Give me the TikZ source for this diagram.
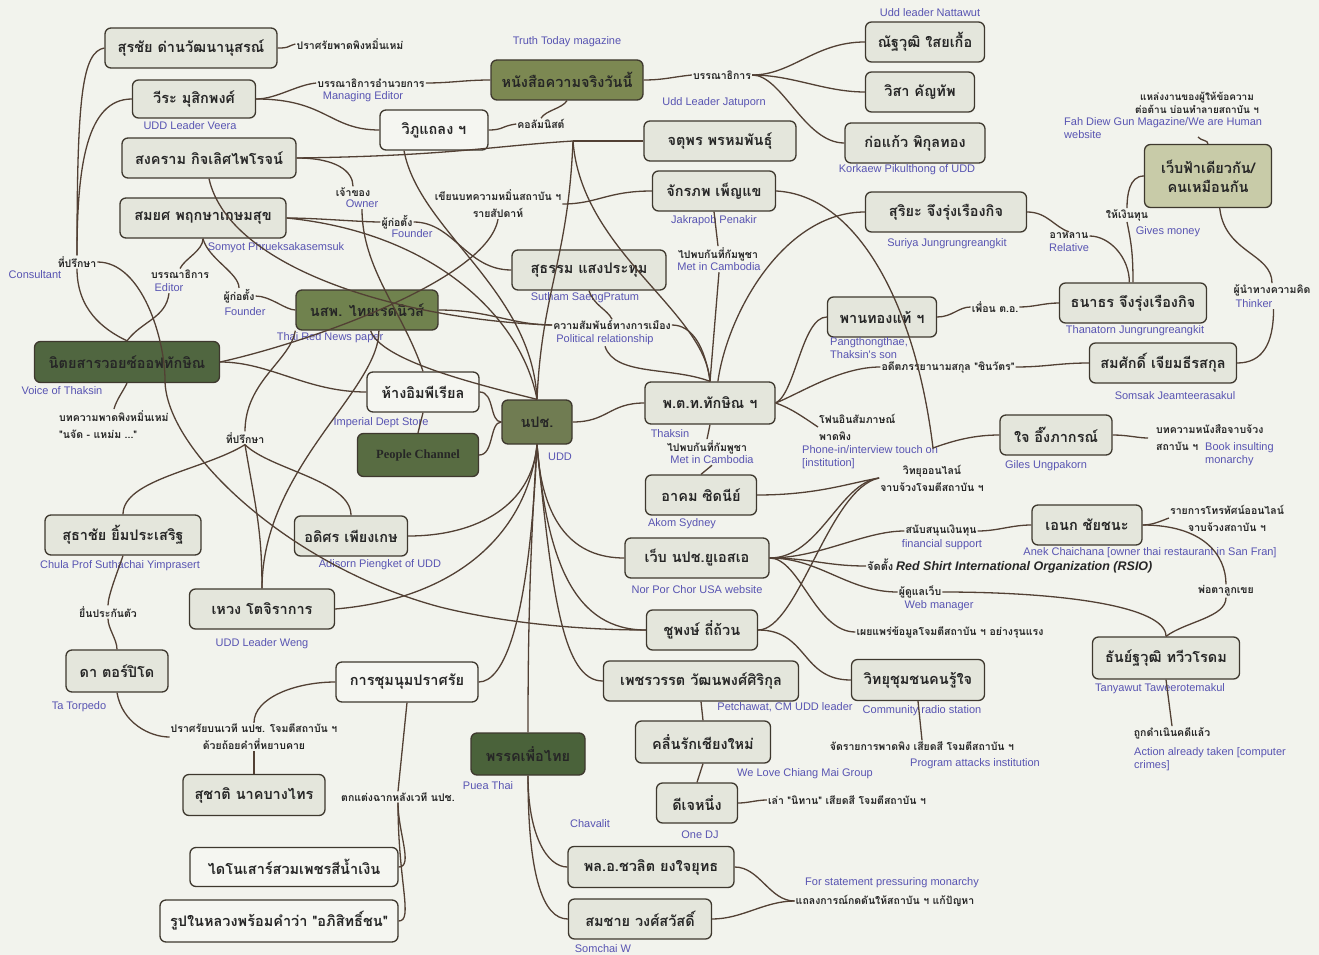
\documentclass[tikz,border=0pt]{standalone}
\usepackage{fontspec}
\setmainfont{Liberation Sans}
\newfontfamily\thai[Script=Thai]{Loma}
\newfontfamily\arial{Liberation Sans}
\newfontfamily\tnr{Liberation Serif}
\usetikzlibrary{calc}
\definecolor{bgc}{RGB}{242,243,237}
\definecolor{boxgray}{RGB}{228,230,220}
\definecolor{boxwhite}{RGB}{245,246,241}
\definecolor{olivec}{RGB}{124,136,82}
\definecolor{redc}{RGB}{112,130,78}
\definecolor{voicec}{RGB}{80,102,64}
\definecolor{peoplec}{RGB}{88,108,66}
\definecolor{uddc}{RGB}{112,124,82}
\definecolor{pueac}{RGB}{74,98,58}
\definecolor{fahc}{RGB}{200,203,168}
\definecolor{edgecol}{RGB}{82,64,52}
\definecolor{nodeline}{RGB}{62,56,46}
\definecolor{bluetext}{RGB}{88,84,178}
\begin{document}
\begin{tikzpicture}[x=1pt,y=-1pt,
  nbox/.style={draw=nodeline, line width=1.3pt, rounded corners=6pt, fill=boxgray,
     font=\thai\bfseries\fontsize{14.5}{19}\selectfont, inner sep=2pt, align=center, text=black!85},
  sz/.style n args={2}{minimum width=#1pt, minimum height=#2pt},
  lab/.style={font=\thai\bfseries\fontsize{10.5}{17}\selectfont, inner sep=1pt, align=center, text=black!85},
  blu/.style={font=\arial\fontsize{11}{13}\selectfont, text=bluetext, inner sep=1pt, align=left},
  conn/.style={draw=edgecol, line width=1.3pt}]
\useasboundingbox (0,0) rectangle (1319,955);
\fill[bgc] (0,0) rectangle (1319,955);

% ---------- boxes ----------
\node[nbox,sz={172}{40}] (surachai) at (191,48) {สุรชัย ด่านวัฒนานุสรณ์};
\node[nbox,sz={123}{38}] (veera) at (194,99) {วีระ มุสิกพงศ์};
\node[nbox,sz={174}{40}] (songkram) at (209,158) {สงคราม กิจเลิศไพโรจน์};
\node[nbox,sz={166}{40}] (somyot) at (203,218) {สมยศ พฤกษาเกษมสุข};
\node[nbox,fill=boxwhite,sz={108}{40}] (wiphu) at (434,130) {วิภูแถลง ฯ};
\node[nbox,fill=olivec,sz={152}{40}] (truth) at (567,80) {หนังสือความจริงวันนี้};
\node[nbox,sz={119}{40}] (nattawut) at (925,42) {ณัฐวุฒิ ใสยเกื้อ};
\node[nbox,sz={109}{40}] (wisa) at (920,92) {วิสา คัญทัพ};
\node[nbox,sz={140}{40}] (korkaew) at (915,143) {ก่อแก้ว พิกุลทอง};
\node[nbox,sz={152}{40}] (jatuporn) at (720,141) {จตุพร พรหมพันธุ์};
\node[nbox,sz={123}{40}] (jakrapob) at (714,191) {จักรภพ เพ็ญแข};
\node[nbox,sz={161}{40}] (suriya) at (946,212) {สุริยะ จึงรุ่งเรืองกิจ};
\node[nbox,fill=fahc,sz={127}{63}] (fahdiew) at (1208,176) {เว็บฟ้าเดียวกัน/\\คนเหมือนกัน};
\node[nbox,sz={154}{40}] (sutham) at (589,270) {สุธรรม แสงประทุม};
\node[nbox,fill=redc,sz={142}{40}] (thaired) at (367,310) {นสพ. ไทยเรดนิวส์};
\node[nbox,fill=voicec,sz={185}{41}] (voice) at (127,362) {นิตยสารวอยซ์ออฟทักษิณ};
\node[nbox,sz={109}{40}] (panthong) at (882,317) {พานทองแท้ ฯ};
\node[nbox,sz={147}{40}] (thanatorn) at (1133,303) {ธนาธร จึงรุ่งเรืองกิจ};
\node[nbox,sz={147}{40}] (somsak) at (1163,363) {สมศักดิ์ เจียมธีรสกุล};
\node[nbox,fill=boxwhite,sz={112}{40}] (imperial) at (423,392) {ห้างอิมพีเรียล};
\node[nbox,fill=peoplec,sz={121}{43},font=\tnr\bfseries\fontsize{12.5}{15}\selectfont] (people) at (418,455) {People Channel};
\node[nbox,fill=uddc,sz={70}{44}] (udd) at (537,422) {นปช.};
\node[nbox,sz={130}{42}] (thaksin) at (710,403) {พ.ต.ท.ทักษิณ ฯ};
\node[nbox,sz={112}{40}] (jai) at (1056,435) {ใจ อึ๊งภากรณ์};
\node[nbox,sz={111}{40}] (akom) at (701,495) {อาคม ซิดนีย์};
\node[nbox,sz={144}{40}] (webusa) at (697,558) {เว็บ นปช.ยูเอสเอ};
\node[nbox,sz={110}{40}] (anek) at (1087,525) {เอนก ชัยชนะ};
\node[nbox,sz={156}{40}] (suthachai) at (123,535) {สุธาชัย ยิ้มประเสริฐ};
\node[nbox,sz={113}{40}] (adisorn) at (351,536) {อดิศร เพียงเกษ};
\node[nbox,sz={145}{40}] (weng) at (262,609) {เหวง โตจิราการ};
\node[nbox,sz={111}{40}] (chupong) at (702,630) {ชูพงษ์ ถี่ถ้วน};
\node[nbox,sz={102}{42}] (ta) at (117,671) {ดา ตอร์ปิโด};
\node[nbox,fill=boxwhite,sz={142}{40}] (rally) at (407,682) {การชุมนุมปราศรัย};
\node[nbox,sz={195}{40}] (petchawat) at (701,681) {เพชรวรรต วัฒนพงศ์ศิริกุล};
\node[nbox,sz={133}{41}] (radio) at (918,680) {วิทยุชุมชนคนรู้ใจ};
\node[nbox,sz={147}{42}] (tanyawut) at (1166,658) {ธันย์ฐวุฒิ ทวีวโรดม};
\node[nbox,fill=pueac,sz={114}{42}] (puea) at (528,754) {พรรคเพื่อไทย};
\node[nbox,sz={135}{42}] (khluen) at (703,742) {คลื่นรักเชียงใหม่};
\node[nbox,sz={142}{41}] (suchat) at (254,795) {สุชาติ นาคบางไทร};
\node[nbox,sz={81}{40}] (dj) at (697,803) {ดีเจหนึ่ง};
\node[nbox,fill=boxwhite,sz={208}{39}] (dino) at (294,867) {ไดโนเสาร์สวมเพชรสีน้ำเงิน};
\node[nbox,sz={166}{41}] (chavalit) at (651,867) {พล.อ.ชวลิต ยงใจยุทธ};
\node[nbox,sz={143}{40}] (somchai) at (640,919) {สมชาย วงศ์สวัสดิ์};
\node[nbox,fill=boxwhite,sz={238}{42}] (picture) at (279,921) {รูปในหลวงพร้อมคำว่า "อภิสิทธิ์ชน"};

% ---------- blue captions ----------
\node[blu] (c-truth) at (567,42) {Truth Today magazine};
\node[blu] (c-veera) at (190,126) {UDD Leader Veera};
\node[blu] (c-somyot) at (276,248) {Somyot Phrueksakasemsuk};
\node[blu] (c-natta) at (930,13) {Udd leader Nattawut};
\node[blu] (c-jatu) at (714,103) {Udd Leader Jatuporn};
\node[blu] (c-kork) at (907,170) {Korkaew Pikulthong of UDD};
\node[blu] (c-jakr) at (714,221) {Jakrapob Penakir};
\node[blu] (c-suriya) at (947,244) {Suriya Jungrungreangkit};
\node[blu] (c-sutham) at (585,298) {Sutham SaengPratum};
\node[blu] (c-thaired) at (330,338) {Thai Red News paper};
\node[blu] (c-voice) at (62,391) {Voice of Thaksin};
\node[blu,anchor=north west] (c-pang) at (829,336) {Pangthongthae,\\Thaksin's son};
\node[blu] (c-thana) at (1135,331) {Thanatorn Jungrungreangkit};
\node[blu] (c-somsak) at (1175,396) {Somsak Jeamteerasakul};
\node[blu] (c-imp) at (381,423) {Imperial Dept Store};
\node[blu] (c-udd) at (560,457) {UDD};
\node[blu] (c-thaksin) at (670,434) {Thaksin};
\node[blu] (c-jai) at (1046,466) {Giles Ungpakorn};
\node[blu] (c-akom) at (682,524) {Akom Sydney};
\node[blu] (c-webusa) at (697,590) {Nor Por Chor USA website};
\node[blu] (c-anek) at (1150,553) {Anek Chaichana [owner thai restaurant in San Fran]};
\node[blu] (c-sutha) at (120,566) {Chula Prof Suthachai Yimprasert};
\node[blu] (c-adis) at (380,565) {Adisorn Piengket of UDD};
\node[blu] (c-weng) at (262,644) {UDD Leader Weng};
\node[blu] (c-ta) at (79,707) {Ta Torpedo};
\node[blu] (c-petch) at (785,707) {Petchawat, CM UDD leader};
\node[blu] (c-radio) at (922,711) {Community radio station};
\node[blu] (c-tany) at (1160,689) {Tanyawut Taweerotemakul};
\node[blu] (c-puea) at (488,786) {Puea Thai};
\node[blu] (c-khluen) at (805,774) {We Love Chiang Mai Group};
\node[blu] (c-dj) at (700,835) {One DJ};
\node[blu] (c-chav) at (590,824) {Chavalit};
\node[blu] (c-somchai) at (603,949) {Somchai W};

% ---------- relation labels ----------
\node[lab] (l-sura) at (350,44) {ปราศรัยพาดพิงหมิ่นเหม่};
\node[lab] (l-medit) at (371,83) {บรรณาธิการอำนวยการ};
\node[blu] (c-medit) at (363,97) {Managing Editor};
\node[lab] (l-col) at (541,124) {คอลัมนิสต์};
\node[lab] (l-edit) at (722,75) {บรรณาธิการ};
\node[lab] (l-owner) at (353,192) {เจ้าของ};
\node[blu] (c-owner) at (362,204) {Owner};
\node[lab] (l-found1) at (397,222) {ผู้ก่อตั้ง};
\node[blu] (c-found1) at (412,234) {Founder};
\node[lab] (l-write) at (498,204) {เขียนบทความหมิ่นสถาบัน ฯ\\รายสัปดาห์};
\node[lab] (l-cons) at (77,262) {ที่ปรึกษา};
\node[blu] (c-cons) at (35,275) {Consultant};
\node[lab] (l-edit2) at (180,274) {บรรณาธิการ};
\node[blu] (c-edit2) at (169,288) {Editor};
\node[lab] (l-found2) at (239,296) {ผู้ก่อตั้ง};
\node[blu] (c-found2) at (245,312) {Founder};
\node[lab] (l-pol) at (612,325) {ความสัมพันธ์ทางการเมือง};
\node[blu] (c-pol) at (605,340) {Political relationship};
\node[lab] (l-camb1) at (718,254) {ไปพบกันที่กัมพูชา};
\node[blu] (c-camb1) at (719,267) {Met in Cambodia};
\node[lab] (l-camb2) at (707,447) {ไปพบกันที่กัมพูชา};
\node[blu] (c-camb2) at (712,460) {Met in Cambodia};
\node[lab] (l-money) at (1127,215) {ให้เงินทุน};
\node[blu] (c-money) at (1168,232) {Gives money};
\node[lab] (l-rel) at (1069,236) {อาหลาน};
\node[blu] (c-rel) at (1069,248) {Relative};
\node[lab] (l-think) at (1272,290) {ผู้นำทางความคิด};
\node[blu] (c-think) at (1254,304) {Thinker};
\node[lab] (l-friend) at (995,307) {เพื่อน ต.อ.};
\node[lab] (l-exwife) at (948,367) {อดีตภรรยานามสกุล "ชินวัตร"};
\node[lab,align=left,anchor=west] (l-phone) at (818,427) {โฟนอินสัมภาษณ์\\พาดพิง};
\node[blu,anchor=north west] (c-phone) at (801,444) {Phone-in/interview touch on\\{}[institution]};
\node[lab] (l-radio) at (932,478) {วิทยุออนไลน์\\จาบจ้วงโจมตีสถาบัน ฯ};
\node[lab,align=left,anchor=west] (l-book) at (1155,438) {บทความหนังสือจาบจ้วง\\สถาบัน ฯ};
\node[blu,anchor=north west] (c-book) at (1204,441) {Book insulting\\monarchy};
\node[lab] (l-tv) at (1227,518) {รายการโทรทัศน์ออนไลน์\\จาบจ้วงสถาบัน ฯ};
\node[lab] (l-fin) at (941,531) {สนับสนุนเงินทุน};
\node[blu] (c-fin) at (942,545) {financial support};
\node[inner sep=1pt,anchor=west,text=black!85] (l-rsio) at (866,566) {{\thai\bfseries\fontsize{11}{12}\selectfont จัดตั้ง} {\arial\bfseries\itshape\fontsize{12.5}{14}\selectfont Red Shirt International Organization (RSIO)}};
\node[lab] (l-webm) at (920,592) {ผู้ดูแลเว็บ};
\node[blu] (c-webm) at (939,606) {Web manager};
\node[lab] (l-inlaw) at (1226,591) {พ่อตาลูกเขย};
\node[lab] (l-spread) at (950,632) {เผยแพร่ข้อมูลโจมตีสถาบัน ฯ อย่างรุนแรง};
\node[lab] (l-sued) at (1172,733) {ถูกดำเนินคดีแล้ว};
\node[blu,anchor=north west] (c-sued) at (1133,746) {Action already taken [computer\\crimes]};
\node[lab] (l-prog) at (922,746) {จัดรายการพาดพิง เสียดสี โจมตีสถาบัน ฯ};
\node[blu] (c-prog) at (975,764) {Program attacks institution};
\node[lab] (l-tale) at (847,800) {เล่า "นิทาน" เสียดสี โจมตีสถาบัน ฯ};
\node[blu] (c-stmt) at (892,883) {For statement pressuring monarchy};
\node[lab] (l-stmt) at (885,901) {แถลงการณ์กดดันให้สถาบัน ฯ แก้ปัญหา};
\node[lab,align=left,anchor=north west] (l-art) at (58,409) {บทความพาดพิงหมิ่นเหม่\\"นจัด - แหม่ม ..."};
\node[lab] (l-cons2) at (245,438) {ที่ปรึกษา};
\node[lab] (l-bail) at (108,612) {ยื่นประกันตัว};
\node[lab] (l-speech) at (254,737) {ปราศรัยบนเวที นปช. โจมตีสถาบัน ฯ\\ด้วยถ้อยคำที่หยาบคาย};
\node[lab] (l-deco) at (398,797) {ตกแต่งฉากหลังเวที นปช.};
\node[lab,font=\thai\bfseries\fontsize{10}{13}\selectfont] (l-fahsrc) at (1197,103) {แหล่งงานของผู้ให้ข้อความ\\ต่อต้าน บ่อนทำลายสถาบัน ฯ};
\node[blu,anchor=north west] (c-fah) at (1063,116) {Fah Diew Gun Magazine/We are Human\\website};

% ---------- junctions ----------
\coordinate (J1) at (573,141);
\coordinate (fdtop) at (1198,137);
\coordinate (bookpt) at (1148,438);
\coordinate (jaipt) at (933,448);

% ---------- connectors ----------
\draw[conn] (surachai.east) .. controls +(12,0) and +(-10,3) .. (l-sura.west);
\draw[conn] (surachai.west) .. controls +(-22,4) and +(0,-160) .. (l-cons.north);
\draw[conn] (veera.west) .. controls +(-45,0) and +(0,-90) .. (l-cons.north);
\draw[conn] (l-cons.south) .. controls +(0,40) and +(-25,-12) .. (voice.north);
\draw[conn] (l-cons.east) .. controls +(45,0) and +(0,-40) .. (165,380) .. controls +(0,70) and +(-150,-40) .. (440,607) .. controls +(80,20) and +(-40,0) .. (chupong.west);
\draw[conn] (veera.east) .. controls +(20,0) and +(-20,2) .. (l-medit.west);
\draw[conn] (l-medit.east) .. controls +(25,0) and +(-25,0) .. (truth.west);
\draw[conn] (veera.east) .. controls +(70,0) and +(-50,0) .. (wiphu.west);
\draw[conn] (songkram.east) .. controls +(40,0) and +(0,-15) .. (l-owner.north);
\draw[conn] (songkram.east) .. controls +(150,-2) and +(-80,5) .. (J1);
\draw[conn] (jatuporn.west) -- (J1);
\draw[conn] (J1) .. controls +(-5,120) and +(5,-110) .. (udd.north);
\draw[conn] (J1) .. controls +(8,110) and +(-5,-70) .. (thaksin.north);
\draw[conn] (c-owner.south) .. controls +(0,60) and +(-20,-60) .. (imperial.north);
\draw[conn] (somyot.east) .. controls +(30,0) and +(-20,0) .. (l-found1.west);
\draw[conn] (l-found1.east) .. controls +(40,0) and +(-45,0) .. (sutham.west);
\draw[conn] (somyot.east) .. controls +(150,15) and +(-15,-80) .. (udd.north);
\draw[conn] (songkram.south) .. controls +(20,90) and +(-150,-5) .. (l-pol.west);
\draw[conn] (thaired.east) .. controls +(50,0) and +(-40,0) .. (l-pol.west);
\draw[conn] (l-pol.east) .. controls +(20,0) and +(-5,-35) .. (thaksin.north);
\draw[conn] (c-pol.south) .. controls +(10,30) and +(-40,-15) .. (thaksin.north);
\draw[conn] (sutham.south) .. controls +(5,15) and +(-5,-10) .. (l-pol.north);
\draw[conn] (wiphu.east) .. controls +(15,0) and +(-15,2) .. (l-col.west);
\draw[conn] (l-col.north) .. controls +(5,-8) and +(-5,8) .. (truth.south);
\draw[conn] ($(wiphu.south)+(-30,0)$) .. controls +(15,80) and +(-5,-110) .. (udd.north);
\draw[conn] (truth.east) .. controls +(20,0) and +(-20,2) .. (l-edit.west);
\draw[conn] (l-edit.east) .. controls +(40,0) and +(-50,0) .. (nattawut.west);
\draw[conn] (l-edit.east) .. controls +(40,0) and +(-40,0) .. (wisa.west);
\draw[conn] (l-edit.east) .. controls +(30,0) and +(-40,0) .. (korkaew.west);
\draw[conn] (jakrapob.west) .. controls +(-45,0) and +(35,0) .. (l-write.east);
\draw[conn] (l-write.south) .. controls +(-10,60) and +(90,-20) .. (voice.east);
\draw[conn] (jakrapob.south) -- (l-camb1.north);
\draw[conn] (c-camb1.south) -- (thaksin.north);
\draw[conn] (jakrapob.east) .. controls (855,195) and (915,300) .. (jaipt) .. controls (955,440) and (975,435) .. (jai.west);
\draw[conn] (suriya.west) .. controls +(-80,0) and +(10,-70) .. (thaksin.70);
\draw[conn] (suriya.east) .. controls +(20,0) and +(-15,-5) .. (l-rel.north);
\draw[conn] (l-rel.east) .. controls +(20,0) and +(0,-25) .. (thanatorn.100);
\draw[conn] (fahdiew.west) .. controls +(-15,0) and +(0,-12) .. (l-money.north);
\draw[conn] (l-money.south) .. controls +(4,20) and +(0,-30) .. (thanatorn.north);
\draw[conn] (fahdiew.-70) .. controls +(5,45) and +(0,-30) .. (l-think.north);
\draw[conn] (c-think.south east) .. controls +(0,35) and +(25,0) .. (somsak.east);
\draw[conn] (fahdiew.north) .. controls +(0,-4) and +(3,4) .. (fdtop);
\draw[conn] (panthong.east) .. controls +(15,0) and +(-12,0) .. (l-friend.west);
\draw[conn] (l-friend.east) .. controls +(15,0) and +(-15,0) .. (thanatorn.west);
\draw[conn] (thaksin.east) .. controls +(20,-10) and +(-25,0) .. (panthong.west);
\draw[conn] (thaksin.east) .. controls +(25,-10) and +(-40,0) .. (l-exwife.west);
\draw[conn] (l-exwife.east) .. controls +(30,0) and +(-30,0) .. (somsak.west);
\draw[conn] (thaksin.east) .. controls +(15,5) and +(-15,-10) .. (l-phone.west);
\draw[conn] (udd.east) .. controls +(35,0) and +(-35,0) .. (thaksin.west);
\draw[conn] (thaksin.south) -- (l-camb2.north);
\draw[conn] (c-camb2.south) -- (akom.north);
\draw[conn] (akom.east) .. controls +(60,0) and +(-30,5) .. (l-radio.west);
\draw[conn] (webusa.east) .. controls +(50,0) and +(-40,5) .. (l-radio.west);
\draw[conn] (chupong.east) .. controls +(40,0) and +(-50,10) .. (l-radio.west);
\draw[conn] (webusa.east) .. controls +(50,0) and +(-40,0) .. (l-fin.west);
\draw[conn] (l-fin.east) .. controls +(20,0) and +(-20,0) .. (anek.west);
\draw[conn] (webusa.east) .. controls +(40,0) and +(-40,0) .. (l-rsio.west);
\draw[conn] (webusa.east) .. controls +(50,0) and +(-50,0) .. (l-webm.west);
\draw[conn] (l-webm.east) .. controls +(120,0) and +(0,-30) .. (tanyawut.north);
\draw[conn] (webusa.east) .. controls +(30,0) and +(-40,0) .. (l-spread.west);
\draw[conn] (chupong.east) .. controls +(50,0) and +(-50,0) .. (radio.west);
\draw[conn] (anek.east) .. controls +(10,0) and +(-8,3) .. (l-tv.west);
\draw[conn] (anek.east) .. controls +(60,0) and +(0,-30) .. (l-inlaw.north);
\draw[conn] (l-inlaw.south) .. controls +(0,20) and +(20,-15) .. (tanyawut.north);
\draw[conn] (jai.east) .. controls +(15,0) and +(-10,0) .. (bookpt);
\draw[conn] (tanyawut.south) -- (l-sued.north);
\draw[conn] (radio.south) -- (l-prog.north);
\draw[conn] (petchawat.south) -- (khluen.north);
\draw[conn] (khluen.south) -- (dj.north);
\draw[conn] (dj.east) .. controls +(10,0) and +(-10,0) .. (l-tale.west);
\draw[conn] (udd.south) .. controls +(-8,120) and +(0,-80) .. (puea.north);
\draw[conn] (puea.south) .. controls +(0,60) and +(-20,0) .. (chavalit.west);
\draw[conn] (puea.south) .. controls +(0,100) and +(-25,0) .. (somchai.west);
\draw[conn] (chavalit.east) .. controls +(25,0) and +(-25,0) .. (l-stmt.west);
\draw[conn] (somchai.east) .. controls +(30,0) and +(-30,0) .. (l-stmt.west);
\draw[conn] (udd.south) .. controls +(-8,180) and +(25,0) .. (rally.east);
\draw[conn] (udd.south) .. controls +(15,150) and +(-40,0) .. (petchawat.west);
\draw[conn] (udd.south) .. controls +(5,80) and +(-50,0) .. (webusa.west);
\draw[conn] (udd.south) .. controls +(10,120) and +(-70,0) .. (chupong.west);
\draw[conn] (adisorn.east) .. controls +(70,0) and +(-5,60) .. (udd.south);
\draw[conn] (weng.east) .. controls +(120,-10) and +(-10,90) .. (udd.south);
\draw[conn] (people.east) .. controls +(15,0) and +(-12,0) .. (udd.west);
\draw[conn] (imperial.east) .. controls +(15,0) and +(-12,0) .. (udd.west);
\draw[conn] (imperial.south) -- (people.north);
\draw[conn] (voice.east) .. controls +(50,0) and +(-60,0) .. (imperial.west);
\draw[conn] (voice.south) .. controls +(-5,10) and +(3,-10) .. (l-art.north);
\draw[conn] (somyot.south) .. controls +(0,12) and +(5,-10) .. (l-edit2.north);
\draw[conn] (somyot.south) .. controls +(5,20) and +(0,-15) .. (l-found2.north);
\draw[conn] (c-edit2.south) .. controls +(-3,25) and +(15,-20) .. (voice.north);
\draw[conn] (l-found2.east) .. controls +(15,0) and +(-10,0) .. (thaired.west);
\draw[conn] (l-cons2.north) .. controls +(0,-50) and +(-5,30) .. (thaired.south west);
\draw[conn] (l-cons2.south) .. controls +(-40,25) and +(0,-35) .. (suthachai.north);
\draw[conn] (l-cons2.south) .. controls +(10,60) and +(0,-60) .. (weng.north);
\draw[conn] (l-cons2.south) .. controls +(25,25) and +(0,-35) .. (adisorn.north);
\draw[conn] (weng.north) .. controls +(0,-120) and +(0,60) .. (thaired.-60);
\draw[conn] (thaired.-80) .. controls +(10,30) and +(-60,-15) .. (udd.north);
\draw[conn] (suthachai.south) .. controls +(-5,15) and +(0,-10) .. (l-bail.north);
\draw[conn] (l-bail.south) .. controls +(0,10) and +(0,-10) .. (ta.north);
\draw[conn] (ta.south) .. controls +(5,30) and +(-20,0) .. (l-speech.west);
\draw[conn] (l-speech.north) .. controls +(0,-25) and +(-40,0) .. (rally.west);
\draw[conn] (l-speech.south) -- (suchat.north);
\draw[conn] (rally.south) -- (l-deco.north);
\draw[conn] (l-deco.south) .. controls +(0,30) and +(15,0) .. (dino.east);
\draw[conn] (l-deco.south) .. controls +(0,80) and +(15,0) .. (picture.east);
\end{tikzpicture}
\end{document}
